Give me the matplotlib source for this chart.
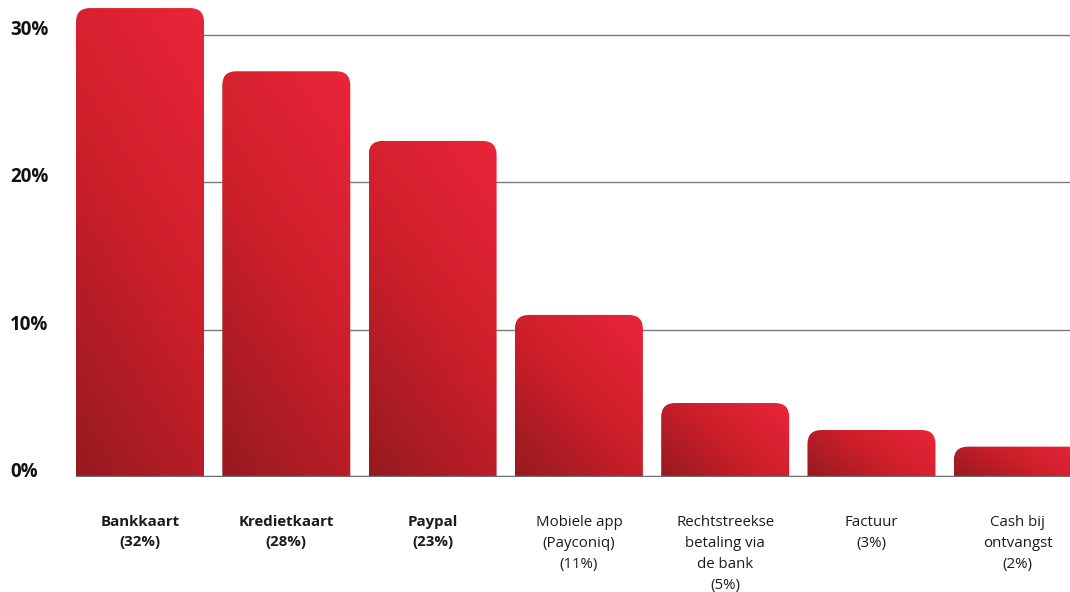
import matplotlib
matplotlib.use("Agg")
import matplotlib.pyplot as plt
import numpy as np
from matplotlib.path import Path
from matplotlib.patches import PathPatch
from matplotlib.colors import LinearSegmentedColormap
import matplotlib.transforms as mtransforms

# ---- data ----
categories = ["Bankkaart\n(32%)", "Kredietkaart\n(28%)", "Paypal\n(23%)",
              "Mobiele app\n(Payconiq)\n(11%)", "Rechtstreekse\nbetaling via\nde bank\n(5%)",
              "Factuur\n(3%)", "Cash bij\nontvangst\n(2%)"]
values = [31.83, 27.54, 22.81, 11.0, 5.02, 3.19, 2.06]
bold_flags = [True, True, True, False, False, False, False]
yticks = [0, 10, 20, 30]
ytick_labels = ["0%", "10%", "20%", "30%"]

W, H = 1070, 592
fig = plt.figure(figsize=(W / 100, H / 100), dpi=100)
ax = fig.add_axes([76 / W, 1 - 477 / H, (1070 - 76) / W, 477 / H])

bar_w = 0.875
x = np.arange(len(values))
ax.set_xlim(-bar_w / 2, 6.357)
ax.set_ylim(0, 477 / 14.733)

bars = ax.bar(x, values, width=bar_w, color="none", edgecolor="none", zorder=2)

for s in ax.spines.values():
    s.set_visible(False)
ax.set_xticks([])
ax.set_yticks(yticks)
ax.set_yticklabels([])
ax.tick_params(axis="y", length=0)
ax.grid(axis="y", color="#7a7a7c", linewidth=1.0, zorder=0)
ax.set_axisbelow(True)
ax.axhline(0, color="#6d6e71", linewidth=2.5, zorder=5)

cmap = LinearSegmentedColormap.from_list(
    "redgrad", [(0.0, "#961a20"), (0.5, "#cc1f2a"), (1.0, "#ea2539")])

# pixel -> data scale for rounded corners
fig.canvas.draw()
p0 = ax.transData.transform((0, 0))
p1 = ax.transData.transform((1, 1))
px_x = p1[0] - p0[0]
px_y = p1[1] - p0[1]
r_px = 14
rx = r_px / px_x
ry = r_px / px_y

for b in bars:
    x0 = b.get_x()
    x1 = x0 + b.get_width()
    h = b.get_height()
    r_y = min(ry, h / 2)
    verts = [(x0, 0), (x1, 0), (x1, h - r_y), (x1, h), (x1 - rx, h),
             (x0 + rx, h), (x0, h), (x0, h - r_y), (x0, 0)]
    codes = [Path.MOVETO, Path.LINETO, Path.LINETO, Path.CURVE3, Path.CURVE3,
             Path.LINETO, Path.CURVE3, Path.CURVE3, Path.CLOSEPOLY]
    path = Path(verts, codes)
    patch = PathPatch(path, facecolor="none", edgecolor="none")
    ax.add_patch(patch)
    wpx = b.get_width() * px_x
    hpx = h * px_y
    u = np.linspace(0, 1, 100)
    v = np.linspace(0, 1, 200)
    U, V = np.meshgrid(u, v)
    t_norm = 0.5 * (U + V)
    t_proj = (U * wpx ** 2 + V * hpx ** 2) / (wpx ** 2 + hpx ** 2)
    grad = 0.55 * t_norm + 0.45 * t_proj
    im = ax.imshow(grad, cmap=cmap, vmin=0, vmax=1, extent=(x0, x1, 0, h),
                   origin="lower", aspect="auto", interpolation="bicubic", zorder=3)
    im.set_clip_path(patch)

ax.set_xlim(-bar_w / 2, 6.357)
ax.set_ylim(0, 477 / 14.733)

# y labels
ytr = mtransforms.blended_transform_factory(fig.transFigure, ax.transData)
for val, lab in zip(yticks, ytick_labels):
    ax.text(10 / W, val, lab, transform=ytr, ha="left", va="baseline",
            fontsize=13.5, fontweight="bold", family="Open Sans", color="#111111")

# category labels
xtr = mtransforms.blended_transform_factory(ax.transData, fig.transFigure)
for xi, lab, bf in zip(x, categories, bold_flags):
    ax.text(xi, 1 - 515 / H, lab, transform=xtr, ha="center", va="top",
            fontsize=10.8, linespacing=1.55,
            fontweight="bold" if bf else "normal",
            family="Open Sans", color="#1a1a1a", clip_on=False)

fig.savefig("out.png", dpi=100)
